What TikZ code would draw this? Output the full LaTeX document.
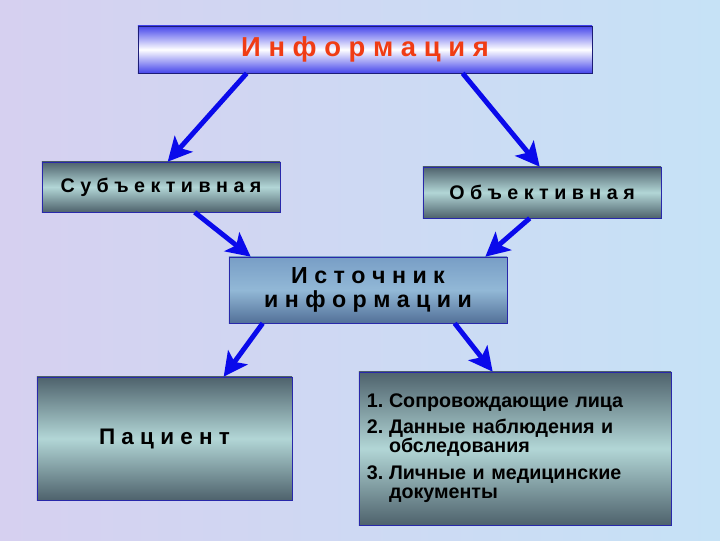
\documentclass[tikz,border=0pt]{standalone}
\usepackage{fontspec}
\setmainfont{Liberation Sans}
\usetikzlibrary{positioning,calc,arrows.meta}
\definecolor{bgtop}{RGB}{214,208,240}
\definecolor{bgbot}{RGB}{198,226,246}
\definecolor{infoblue}{RGB}{70,70,235}
\definecolor{infotext}{RGB}{240,60,20}
\definecolor{slatedark}{RGB}{78,98,108}
\definecolor{slatelight}{RGB}{178,214,214}
\definecolor{steeltop}{RGB}{120,158,198}
\definecolor{steelmid}{RGB}{146,184,214}
\definecolor{steelbot}{RGB}{82,112,152}
\definecolor{edgeblue}{RGB}{40,40,170}
\definecolor{arrowblue}{RGB}{10,10,235}
\tikzstyle{infobox} = [rectangle, inner sep=0, text centered, draw=edgeblue!70!black, top color=infoblue, bottom color=infoblue, middle color=white, font=\fontsize{19.5}{22}\selectfont\bfseries, text=infotext]
\tikzstyle{greybox} = [rectangle, inner sep=0, text centered, draw=edgeblue, top color=slatedark, bottom color=slatedark, middle color=slatelight, font=\fontsize{14}{16}\selectfont\bfseries]
\tikzstyle{srcbox} = [rectangle, inner sep=0, align=center, draw=edgeblue, top color=steeltop, bottom color=steelbot, middle color=steelmid, font=\fontsize{16.5}{17.5}\selectfont\bfseries]
\tikzstyle{listtext} = [inner sep=0, text width=7.4cm, align=left, font=\fontsize{14}{13.5}\selectfont\bfseries]
\tikzstyle{arrow} = [line width=3.5pt, arrowblue, -{Stealth[length=17pt,width=17pt,inset=4pt]}]
\newcommand{\numitem}[2]{\par\noindent\hangindent=1.12em\hangafter=1\makebox[1.12em][l]{#1.}#2\par}

\begin{document}
\begin{tikzpicture}[x=0.025cm, y=-0.025cm]
                    \useasboundingbox (0,0) rectangle (720,540);
                    \shade[shading angle=135, left color=bgtop, right color=bgbot] (0,0) rectangle (720,540);
                    \node[infobox, minimum width=11.35cm, minimum height=1.175cm] (info) at (365,49.5) {И н ф о р м а ц и я};
                    \node[greybox, minimum width=5.95cm, minimum height=1.25cm] (subj) at (161,187) {С у б ъ е к т и в н а я};
                    \node[greybox, minimum width=5.95cm, minimum height=1.275cm] (obj) at (542,192.5) {О б ъ е к т и в н а я};
                    \node[srcbox, minimum width=6.95cm, minimum height=1.65cm] (src) at (368,290) {И с т о ч н и к\\и н ф о р м а ц и и};
                    \node[greybox, font=\fontsize{16}{18}\selectfont\bfseries, minimum width=6.375cm, minimum height=3.075cm] (pat) at (164.5,438.5) {П а ц и е н т};
                    \node[greybox, minimum width=7.8cm, minimum height=3.825cm] (docs) at (515,448.5) {};
                    \node[listtext, yshift=5pt] (docslist) at (docs.center) {\setlength{\parskip}{5.5pt}%
                        \numitem{1}{Сопровождающие лица}%
                        \numitem{2}{Данные наблюдения и обследования}%
                        \numitem{3}{Личные и медицинские документы}};
                    \draw[arrow] ($(info.south west)+(109,0)$) -- ($(subj.north west)+(126,0)$);
                    \draw[arrow] ($(info.south west)+(325,0)$) -- ($(obj.north west)+(117,0)$);
                    \draw[arrow] ($(subj.south west)+(153,0)$) -- ($(src.north west)+(22,0)$);
                    \draw[arrow] ($(obj.south west)+(107,0)$) -- ($(src.north east)+(-22,0)$);
                    \draw[arrow] ($(src.south west)+(34,0)$) -- ($(pat.north west)+(187,0)$);
                    \draw[arrow] ($(src.south west)+(226,0)$) -- ($(docs.north west)+(134,0)$);
                \end{tikzpicture}
\end{document}
